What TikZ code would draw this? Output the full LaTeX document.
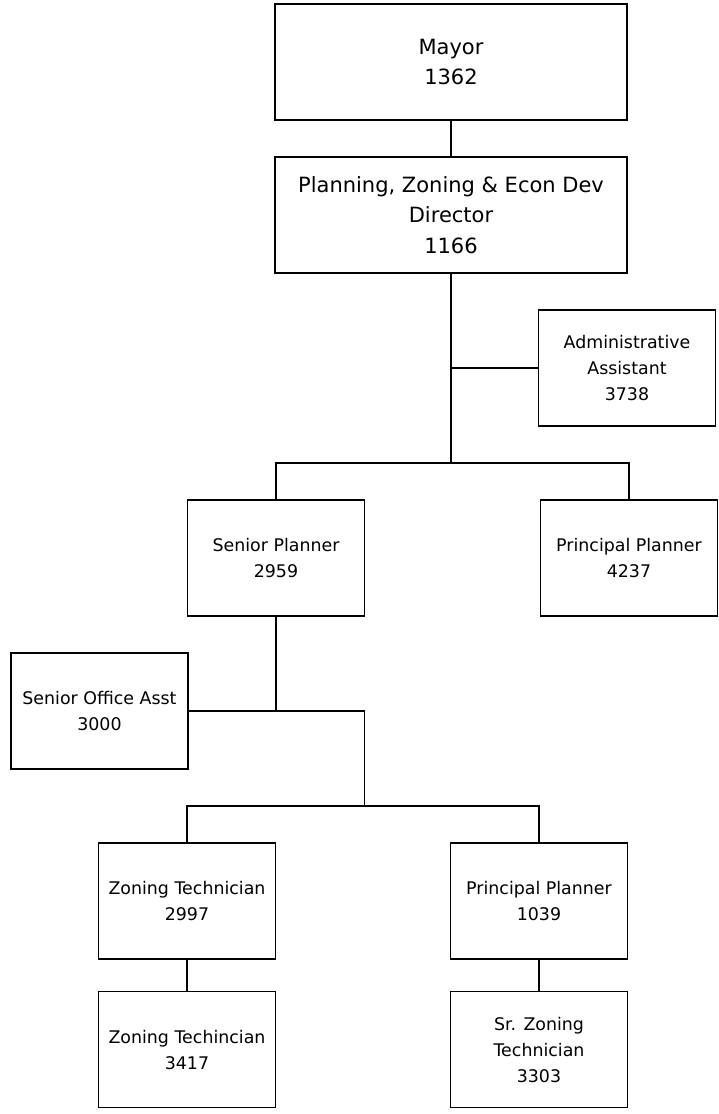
\documentclass[tikz,border=0pt]{standalone}
\usepackage{fontspec}
\setmainfont{DejaVu Sans}
\usetikzlibrary{positioning}

\begin{document}
\begin{tikzpicture}[
  x=1pt, y=1pt,
  line width=1.6pt,
  every node/.style={align=center},
  headbox/.style={rectangle, draw=black, inner sep=0pt, minimum width=352pt, minimum height=116pt, font=\fontsize{21}{30.5}\selectfont},
  staffbox/.style={headbox, minimum width=177pt, font=\fontsize{17.4}{26}\selectfont}
]
\path[fill=white] (0,0) rectangle (719,-1114);
\useasboundingbox (0,0) rectangle (719,-1114);

% top of the chart
\node[headbox] (mayor) at (451,-62) {Mayor\\1362};
\node[headbox] (dir) at (451,-215) {Planning, Zoning \& Econ Dev\\Director\\1166};
\node[staffbox] (admin) at (627,-368) {Administrative\\Assistant\\3738};

% planners
\node[staffbox] (sp) at (276,-558) {Senior Planner\\2959};
\node[staffbox] (pp) at (629,-558) {Principal Planner\\4237};
\node[staffbox] (soa) at (99.5,-711) {Senior Office Asst\\3000};

% zoning staff
\node[staffbox] (zt) at (187,-901) {Zoning Technician\\2997};
\node[staffbox] (pp2) at (539,-901) {Principal Planner\\1039};
\node[staffbox] (zt2) at (187,-1049.5) {Zoning Techincian\\3417};
\node[staffbox] (szt) at (539,-1049.5) {Sr. Zoning\\Technician\\3303};

% branch points
\coordinate (b1) at (451,-463);
\coordinate (b2) at (364.5,-806);

% connectors
\draw (mayor) -- (dir);
\draw (dir.south) -- (b1);
\draw (admin.west) -- (admin.west -| dir.south);
\draw (sp.north) |- (b1) -| (pp.north);
\draw (sp.south) -- (sp.south |- soa.east);
\draw (soa.east) -| (b2);
\draw (zt.north) |- (b2) -| (pp2.north);
\draw (zt) -- (zt2);
\draw (pp2) -- (szt);

\end{tikzpicture}
\end{document}
